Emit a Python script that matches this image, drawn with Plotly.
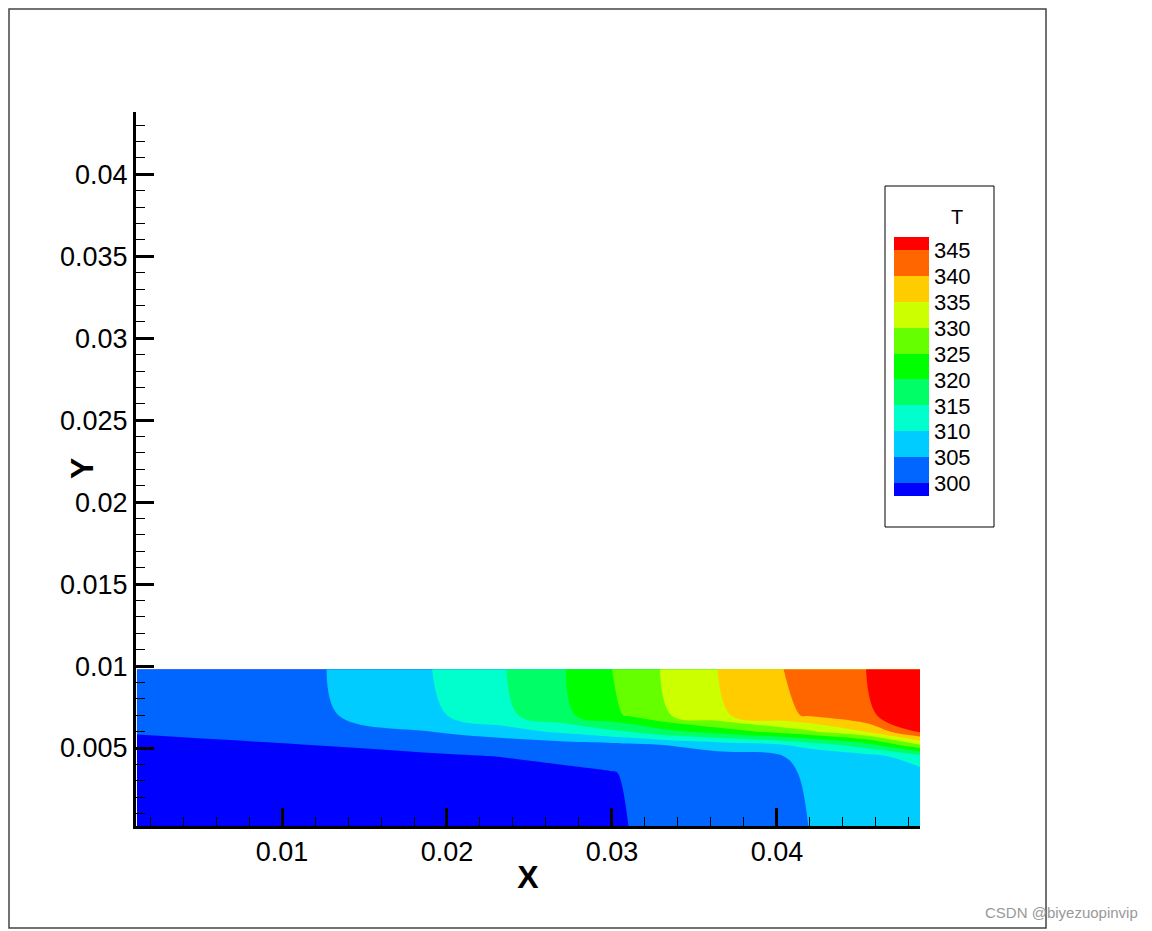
import plotly.graph_objects as go

# grid (x in m, y in m, T in K)
x_vals = [0.0012, 0.0127, 0.0191, 0.0236, 0.0272, 0.0300, 0.0310, 0.0329, 0.0364, 0.0404, 0.0419, 0.0454, 0.0487]
y_vals = [0.00024, 0.0035, 0.0045, 0.0052, 0.0060, 0.0070, 0.0098]
T_vals = [
    [297.0, 298.0, 298.5, 299.0, 299.5, 299.8, 300.0, 301.0, 302.5, 304.3, 305.0, 306.5, 307.5],
    [297.5, 298.0, 298.5, 299.0, 299.5, 299.9, 300.2, 301.2, 302.8, 304.6, 305.3, 307.0, 308.5],
    [298.5, 299.0, 299.6, 300.1, 300.6, 301.0, 301.3, 302.0, 303.5, 305.0, 305.7, 308.0, 313.0],
    [299.3, 300.1, 301.0, 302.0, 303.0, 303.5, 304.0, 305.0, 307.0, 310.0, 312.0, 318.0, 330.0],
    [300.2, 302.0, 305.0, 308.0, 311.0, 314.0, 315.0, 318.0, 322.0, 327.0, 329.0, 335.0, 346.0],
    [302.0, 304.5, 309.0, 314.0, 319.0, 324.0, 325.5, 329.0, 334.0, 339.0, 340.5, 344.5, 347.0],
    [303.0, 305.0, 310.0, 315.0, 320.0, 325.0, 326.7, 330.0, 335.0, 340.0, 341.5, 345.0, 348.0],
]
levels = [300, 305, 310, 315, 320, 325, 330, 335, 340, 345]
band_colors = ["#0000ff", "#0066ff", "#00ccff", "#00ffcc", "#00ff66", "#00ff00",
               "#66ff00", "#ccff00", "#ffcc00", "#ff6600", "#ff0000"]

# plotly maps fill colours so band i sits at fraction i/10
cscale = []
for i, c in enumerate(band_colors):
    cscale.append([max(0, (i - 0.5) / 10), c])
    cscale.append([min(1, (i + 0.5) / 10), c])

# pixel layout of the reference
L, R, T, B = 128, 912, 104, 818
W, H = R - L, B - T
px = lambda x: (x - L) / W
py = lambda y: (B - y) / H

fig = go.Figure(go.Contour(
    x=x_vals, y=y_vals, z=T_vals,
    colorscale=cscale,
    contours=dict(start=300, end=345, size=5, coloring="fill", showlines=False),
    line_width=0,
    colorbar=dict(
        x=px(876), xanchor="left", y=py(359), yanchor="middle",
        len=279, lenmode="pixels", thickness=35,
        tickvals=levels,
        tickfont=dict(size=22, color="black"),
        outlinewidth=0, ticks="",
    ),
))

axis_common = dict(
    showgrid=False, zeroline=False, showline=True, linecolor="black", linewidth=3,
    ticks="inside", ticklen=18, tickwidth=3, tickcolor="black",
    tickfont=dict(size=27, color="black"), mirror=False,
)
fig.update_xaxes(range=[0.00115, 0.04867], dtick=0.01, tick0=0,
                 minor=dict(dtick=0.002, ticks="inside", ticklen=9, tickwidth=1, tickcolor="black"),
                 title=dict(text="<b>X</b>", font=dict(size=32, color="black"), standoff=0),
                 **axis_common)
fig.update_yaxes(range=[0.000244, 0.0438], dtick=0.005, tick0=0,
                 minor=dict(dtick=0.001, ticks="inside", ticklen=9, tickwidth=1, tickcolor="black"),
                 **axis_common)

fig.update_layout(
    width=1152, height=931,
    margin=dict(l=L, r=1152 - R, t=T, b=931 - B),
    paper_bgcolor="white", plot_bgcolor="white",
    font=dict(family="Liberation Sans, Arial", color="black"),
    shapes=[
        dict(type="rect", xref="paper", yref="paper", x0=px(1), x1=px(1038), y0=py(920), y1=py(1),
             line=dict(color="#444", width=1.5)),
        dict(type="rect", xref="paper", yref="paper", x0=px(877), x1=px(986),
             y0=py(519), y1=py(178), line=dict(color="black", width=1)),
    ],
    annotations=[
        dict(text="T", xref="paper", yref="paper", x=px(957), y=py(196),
             showarrow=False, font=dict(size=20, color="black")),
        dict(text="<b>Y</b>", xref="paper", yref="paper", x=px(54), y=py(461),
             textangle=-90, showarrow=False, font=dict(size=32, color="black")),
        dict(text="CSDN @biyezuopinvip", xref="paper", yref="paper",
             x=px(1132), y=py(904), xanchor="right", yanchor="middle",
             showarrow=False, font=dict(size=15, color="#999")),
    ],
)

fig.write_html("out.html")
